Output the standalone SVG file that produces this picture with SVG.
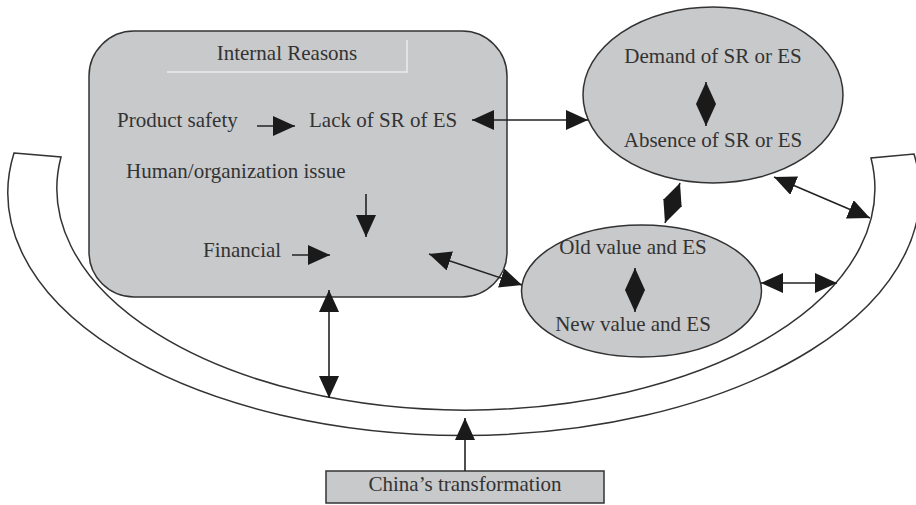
<svg xmlns="http://www.w3.org/2000/svg" width="916" height="505" viewBox="0 0 916 505">
<defs>
<style>
.box{fill:#c8c9cb;stroke:#333;stroke-width:1.5}
.band{fill:#fff;stroke:#333;stroke-width:1.5}
.t{font-family:"Liberation Serif","Times New Roman",serif;font-size:21px;fill:#333}
.c{text-anchor:middle}
.ln{stroke:#222;stroke-width:1.6;fill:none}
.hl{stroke:#ececec;stroke-width:1.5;fill:none}
</style>
<marker id="ah" viewBox="0 0 22 20" refX="22" refY="10" markerWidth="22" markerHeight="20" markerUnits="userSpaceOnUse" orient="auto-start-reverse">
<path d="M0,0 L22,10 L0,20 z" fill="#1a1a1a"/>
</marker>
</defs>

<g id="environment">
<path class="band" d="M 14 153 L 61 157 A 409 221.7 0 1 0 871 158 L 914 154 A 456 242.7 0 1 1 14 153 Z"/>
</g>

<g id="internal-reasons">
<rect class="box" x="89" y="31" width="418" height="266" rx="45" ry="45"/>
<path class="hl" d="M167 72 H407 V40"/>
<text class="t c" x="287" y="60">Internal Reasons</text>
<text class="t" x="117" y="127">Product safety</text>
<text class="t" x="309" y="127">Lack of SR of ES</text>
<text class="t" x="126" y="178">Human/organization issue</text>
<text class="t" x="203" y="257">Financial</text>
</g>

<g id="demand-absence">
<ellipse class="box" cx="713" cy="95" rx="130" ry="88"/>
<text class="t c" x="713" y="63">Demand of SR or ES</text>
<text class="t c" x="713" y="147">Absence of SR or ES</text>
</g>

<g id="old-new-value">
<ellipse class="box" cx="641.5" cy="291" rx="120" ry="66"/>
<text class="t c" x="633" y="254">Old value and ES</text>
<text class="t c" x="633" y="331">New value and ES</text>
</g>

<g id="china-transformation">
<rect class="box" x="326" y="471" width="278" height="32"/>
<text class="t c" x="465" y="491">China’s transformation</text>
</g>

<g id="connectors">
<line class="ln" x1="257" y1="126" x2="295" y2="126" marker-end="url(#ah)"/>
<line class="ln" x1="472" y1="120" x2="588" y2="120" marker-start="url(#ah)" marker-end="url(#ah)"/>
<line class="ln" x1="366" y1="194" x2="366" y2="237" marker-end="url(#ah)"/>
<line class="ln" x1="292" y1="255" x2="330" y2="255" marker-end="url(#ah)"/>
<line class="ln" x1="429" y1="254" x2="522" y2="285" marker-start="url(#ah)" marker-end="url(#ah)"/>
<line class="ln" x1="329" y1="290" x2="329" y2="398" marker-start="url(#ah)" marker-end="url(#ah)"/>
<line class="ln" x1="680" y1="183" x2="665" y2="223" marker-start="url(#ah)" marker-end="url(#ah)"/>
<line class="ln" x1="774" y1="177" x2="870" y2="218" marker-start="url(#ah)" marker-end="url(#ah)"/>
<line class="ln" x1="761" y1="283" x2="837" y2="283" marker-start="url(#ah)" marker-end="url(#ah)"/>
<line class="ln" x1="465" y1="471" x2="465" y2="418" marker-end="url(#ah)"/>
<line class="ln" x1="706" y1="82" x2="706" y2="126" marker-start="url(#ah)" marker-end="url(#ah)"/>
<line class="ln" x1="635" y1="268" x2="635" y2="312" marker-start="url(#ah)" marker-end="url(#ah)"/>
</g>
</svg>
